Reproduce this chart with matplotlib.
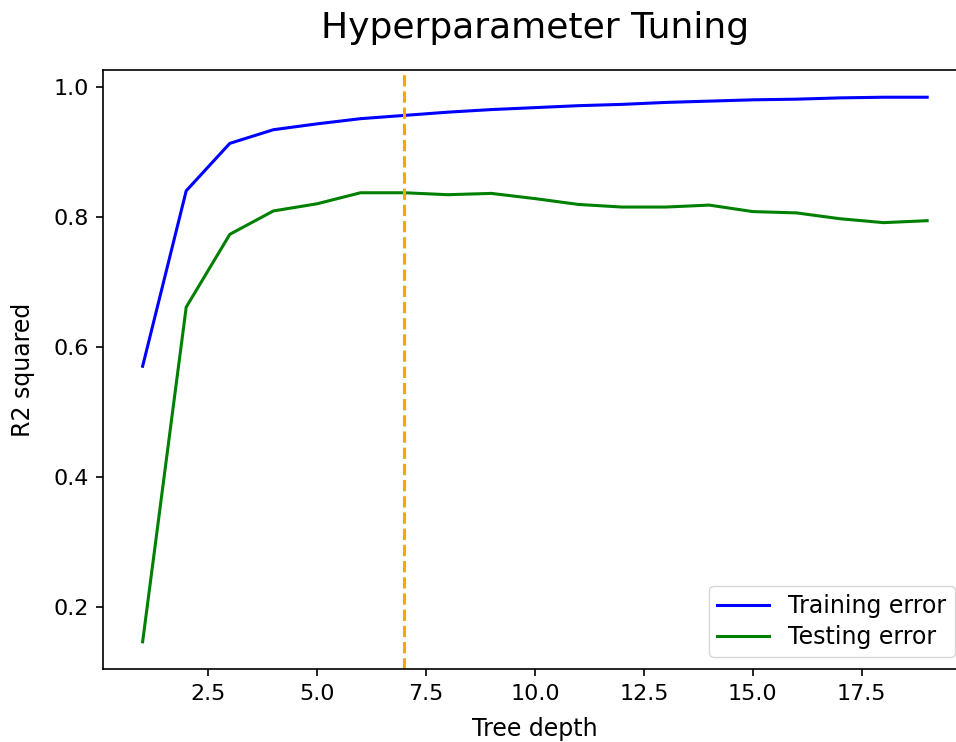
import numpy as np
import matplotlib
matplotlib.use('Agg')
import matplotlib.pyplot as plt

depths = np.arange(1, 20)
train_r2 = [0.571, 0.841, 0.914, 0.935, 0.944, 0.952, 0.957, 0.962, 0.966,
            0.969, 0.972, 0.974, 0.977, 0.979, 0.981, 0.982, 0.984, 0.985, 0.985]
test_r2 = [0.147, 0.662, 0.774, 0.810, 0.821, 0.838, 0.838, 0.835, 0.837,
           0.829, 0.820, 0.816, 0.816, 0.819, 0.809, 0.807, 0.798, 0.792, 0.795]
best_depth = 7

fig = plt.figure(figsize=(9.56, 7.42), dpi=100)
ax = fig.add_axes([103.4 / 956, 73 / 742, 863 / 956, 599 / 742])

ax.plot(depths, train_r2, color='blue', lw=2.2, label='Training error')
ax.plot(depths, test_r2, color='green', lw=2.2, label='Testing error')
ax.axvline(best_depth, color='orange', ls='--', lw=2.2)

ax.set_xticks([2.5, 5.0, 7.5, 10.0, 12.5, 15.0, 17.5])
ax.set_yticks([0.2, 0.4, 0.6, 0.8, 1.0])
ax.tick_params(labelsize=16, length=5, width=1.2, pad=5.5)
for s in ax.spines.values():
    s.set_linewidth(1.2)

ax.set_xlabel('Tree depth', fontsize=17, labelpad=10)
ax.set_ylabel('R2 squared', fontsize=17, labelpad=13)
ax.set_title('Hyperparameter Tuning', fontsize=26, pad=23)
ax.legend(loc='lower right', fontsize=17, handlelength=2.2,
          labelspacing=0.3, borderpad=0.35)

plt.savefig('out.png', dpi=100)
